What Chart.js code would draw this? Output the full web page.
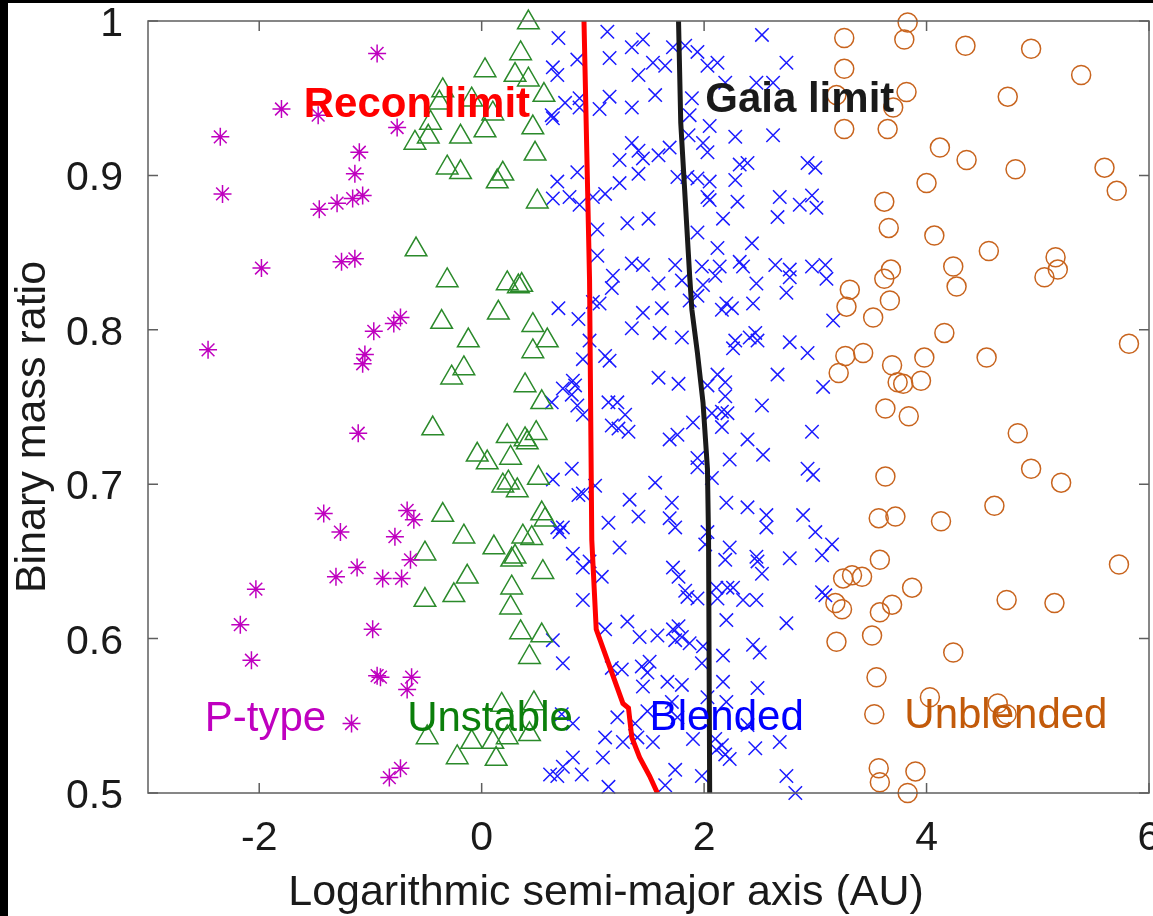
<!DOCTYPE html>
<html lang="en">
<head>
  <meta charset="UTF-8">
  <title>Binary mass ratio vs semi-major axis</title>
  <script src="https://cdn.jsdelivr.net/npm/chart.js"></script>
  <style>
    html, body { margin: 0; padding: 0; background: #fff; }
    canvas { display: block; }
  </style>
</head>
<body>
  <canvas id="chart" width="1153" height="916"></canvas>

  <script>
    // axis ticks
    const xTicks = [-2, 0, 2, 4, 6];
    const yTicks = [0.5, 0.6, 0.7, 0.8, 0.9, 1];
    const yTickLabels = ['0.5', '0.6', '0.7', '0.8', '0.9', '1'];

    // [log10 a (AU), mass ratio]
    const pType = [
      [-0.94,0.979],[-1.80,0.943],[-1.47,0.939],[-0.76,0.931],[-2.35,0.925],[-1.10,0.915],[-1.14,0.901],
      [-2.33,0.888],[-1.46,0.878],[-1.30,0.882],[-1.16,0.885],[-1.07,0.887],[-1.98,0.840],[-1.26,0.844],
      [-1.14,0.846],[-2.46,0.787],[-0.97,0.799],[-0.79,0.804],[-0.73,0.808],[-1.05,0.784],[-1.07,0.778],
      [-1.11,0.733],[-1.42,0.681],[-1.27,0.669],[-0.67,0.683],[-0.61,0.677],[-0.78,0.666],[-1.31,0.640],
      [-1.12,0.646],[-0.89,0.639],[-0.72,0.639],[-2.03,0.632],[-2.17,0.609],[-2.07,0.586],[-0.98,0.606],
      [-0.91,0.575],[-0.94,0.576],[-0.63,0.575],[-0.67,0.567],[-1.17,0.545],[-0.83,0.510],[-0.73,0.516],
      [-0.64,0.651]
    ];

    const unstable = [
      [0.42,0.999],[0.35,0.979],[0.03,0.968],[0.30,0.965],[0.42,0.962],[-0.35,0.955],[-0.38,0.947],
      [-0.09,0.949],[0.10,0.940],[0.56,0.952],[-0.46,0.934],[0.03,0.929],[0.46,0.931],[-0.19,0.925],
      [-0.48,0.925],[-0.60,0.921],[0.48,0.914],[-0.31,0.905],[-0.19,0.902],[0.19,0.901],[0.14,0.896],
      [0.50,0.883],[-0.59,0.852],[-0.31,0.832],[0.23,0.830],[0.36,0.829],[0.33,0.828],[0.15,0.811],
      [-0.36,0.805],[0.46,0.803],[0.59,0.793],[-0.12,0.793],[0.46,0.786],[-0.16,0.775],[-0.27,0.769],
      [0.39,0.764],[0.54,0.753],[-0.44,0.736],[0.23,0.731],[0.39,0.729],[0.49,0.733],[0.41,0.727],
      [-0.04,0.719],[0.05,0.714],[0.26,0.717],[0.51,0.704],[0.19,0.699],[0.32,0.696],[0.24,0.701],
      [-0.35,0.680],[0.54,0.681],[0.57,0.677],[-0.16,0.666],[0.37,0.666],[0.45,0.665],[-0.51,0.655],
      [0.11,0.659],[0.30,0.653],[0.27,0.651],[-0.13,0.640],[0.55,0.643],[-0.51,0.625],[-0.25,0.628],
      [0.27,0.633],[0.26,0.620],[0.35,0.604],[0.54,0.602],[0.43,0.588],[0.18,0.557],[0.47,0.558],
      [-0.49,0.536],[-0.09,0.533],[0.10,0.533],[0.23,0.536],[0.43,0.538],[-0.22,0.523],[0.13,0.522]
    ];

    const blended = [
      [0.69,0.989],[1.13,0.993],[0.86,0.975],[1.15,0.976],[1.35,0.983],[1.45,0.988],[0.64,0.970],[0.68,0.965],
      [1.41,0.965],[0.75,0.947],[0.88,0.950],[0.88,0.944],[1.06,0.943],[1.15,0.951],[1.35,0.944],[0.63,0.939],
      [0.64,0.937],[1.35,0.921],[1.41,0.916],[1.45,0.911],[1.24,0.910],[0.86,0.902],[0.68,0.896],[1.41,0.901],
      [0.64,0.885],[0.79,0.886],[0.88,0.881],[1.00,0.886],[1.11,0.888],[1.24,0.895],[1.04,0.865],[1.31,0.869],
      [1.50,0.872],[1.04,0.848],[1.35,0.843],[1.45,0.842],[1.18,0.835],
      [1.72,0.983],[1.83,0.984],[1.94,0.980],[2.52,0.991],[1.54,0.973],[1.65,0.971],[2.03,0.971],[2.12,0.973],
      [2.74,0.973],[1.56,0.952],[1.89,0.950],[2.19,0.960],[2.47,0.960],[2.62,0.960],[1.87,0.939],[2.05,0.932],
      [1.86,0.926],[2.28,0.925],[2.62,0.926],[1.59,0.913],[1.69,0.918],[1.99,0.921],[2.03,0.915],[2.32,0.907],
      [2.39,0.908],[2.93,0.908],[3.00,0.905],[1.76,0.899],[1.85,0.899],[1.94,0.898],[2.05,0.896],[2.28,0.897],
      [2.03,0.886],[2.05,0.884],[2.30,0.883],[2.68,0.886],[2.86,0.881],[2.97,0.887],[3.01,0.879],[2.17,0.872],
      [2.66,0.873],[1.94,0.863],[2.43,0.856],[2.12,0.853],[1.74,0.842],[1.98,0.841],[2.14,0.841],[2.32,0.844],
      [2.35,0.841],[2.64,0.842],[2.77,0.839],[2.97,0.841],[3.09,0.842],
      [1.17,0.827],[1.06,0.817],[1.00,0.818],[0.69,0.814],[0.87,0.807],[1.45,0.811],[1.35,0.801],[0.97,0.793],
      [0.91,0.781],[1.11,0.783],[1.15,0.780],[0.82,0.767],[0.84,0.764],[0.73,0.762],[0.81,0.758],[0.63,0.753],
      [0.86,0.751],[0.91,0.745],[1.14,0.753],[1.22,0.753],[1.29,0.745],[1.17,0.738],[1.23,0.736],[1.32,0.734],
      [0.81,0.710],[0.64,0.703],[1.02,0.699],[0.87,0.693],[0.91,0.694],[1.33,0.690],[1.41,0.679],[1.14,0.675],
      [0.68,0.672],[0.73,0.672],
      [1.59,0.830],[1.80,0.832],[1.99,0.829],[2.10,0.835],[2.47,0.830],[2.77,0.834],[3.10,0.833],[2.74,0.824],
      [1.62,0.814],[1.87,0.819],[1.94,0.822],[2.16,0.813],[2.20,0.817],[2.25,0.814],[2.44,0.817],[3.16,0.806],
      [1.60,0.798],[1.80,0.795],[2.28,0.793],[2.26,0.788],[2.41,0.795],[2.46,0.798],[2.48,0.793],[2.77,0.792],
      [2.93,0.785],[1.59,0.769],[1.77,0.765],[2.03,0.764],[2.12,0.771],[2.19,0.766],[2.66,0.771],[3.07,0.763],
      [2.19,0.757],[2.52,0.751],[2.07,0.746],[2.16,0.747],[2.21,0.746],[1.90,0.740],[2.16,0.737],[1.69,0.729],
      [1.76,0.732],[2.39,0.729],[2.97,0.734],[1.94,0.717],[1.94,0.711],[2.23,0.716],[2.53,0.719],[2.93,0.710],
      [2.98,0.706],[1.56,0.701],[2.07,0.704],[1.71,0.688],[2.20,0.688],[2.39,0.685],[2.56,0.680],[2.89,0.680],
      [1.69,0.678],[1.74,0.672],[2.56,0.672],[3.00,0.669],[2.03,0.669],
      [2.01,0.661],[2.23,0.659],[2.19,0.651],[2.47,0.653],[2.48,0.650],[2.77,0.652],[3.06,0.654],[3.15,0.661],
      [1.72,0.646],[1.77,0.640],[2.52,0.642],[1.83,0.631],[1.85,0.627],[1.94,0.626],[2.11,0.633],[2.12,0.626],
      [2.21,0.633],[2.26,0.633],[2.35,0.625],[2.47,0.625],[3.06,0.630],[3.09,0.628],[2.20,0.612],[2.74,0.610],
      [1.58,0.602],[1.72,0.606],[1.77,0.608],[1.80,0.601],[1.74,0.599],[1.87,0.597],[1.99,0.595],[2.17,0.589],
      [2.44,0.596],[2.50,0.591],[1.51,0.585],[1.44,0.582],[1.49,0.578],[1.98,0.584],[1.67,0.572],[1.80,0.570],
      [2.17,0.572],[2.48,0.568],[1.45,0.569],[2.03,0.562],[2.20,0.559],[1.49,0.553],[1.71,0.559],[1.76,0.549],
      [2.39,0.544],[1.54,0.533],[1.90,0.535],[2.10,0.535],[2.16,0.531],[2.11,0.528],[2.19,0.525],[2.23,0.522],
      [2.46,0.529],[2.68,0.533],[1.74,0.515],[1.65,0.505],[1.98,0.511],[2.74,0.511],[2.82,0.500],
      [0.70,0.669],[1.24,0.659],[0.82,0.655],[0.91,0.646],[0.97,0.650],[1.08,0.640],[0.91,0.625],[1.11,0.606],
      [1.31,0.611],[1.42,0.601],[0.64,0.599],[0.73,0.584],[1.17,0.581],[1.26,0.580],[1.22,0.549],[1.38,0.545],
      [0.72,0.551],[0.82,0.545],[1.11,0.536],[1.27,0.533],[1.40,0.536],[1.09,0.523],[0.82,0.523],[0.73,0.517],
      [0.615,0.512],[0.68,0.511],[0.90,0.512],[1.14,0.504]
    ];

    const unblended = [
      [3.26,0.989],[3.26,0.969],[3.19,0.952],[3.26,0.930],[3.65,0.930],[3.83,0.999],[3.80,0.988],[4.35,0.984],
      [4.94,0.982],[5.39,0.965],[4.73,0.951],[3.82,0.954],[3.70,0.944],[4.12,0.918],[4.36,0.910],[4.80,0.904],
      [5.60,0.905],[5.71,0.890],[4.00,0.895],[3.62,0.883],[3.66,0.866],[4.07,0.861],[4.56,0.851],[4.24,0.841],
      [5.16,0.847],[5.18,0.839],[5.06,0.834],[3.68,0.839],[3.62,0.833],[4.27,0.828],[3.31,0.826],[3.28,0.815],
      [3.52,0.808],[3.67,0.819],[3.27,0.783],[3.43,0.785],[3.21,0.772],[3.69,0.777],[3.74,0.766],[3.63,0.749],
      [3.63,0.705],[3.57,0.678],[3.72,0.679],[4.16,0.798],[5.82,0.791],[3.98,0.782],[4.54,0.782],[3.79,0.765],
      [3.95,0.767],[3.84,0.744],[4.82,0.733],[4.94,0.710],[5.21,0.701],[4.61,0.686],[4.13,0.676],[3.58,0.651],
      [3.25,0.639],[3.33,0.641],[3.42,0.640],[3.18,0.623],[3.24,0.619],[3.58,0.617],[3.69,0.622],[3.19,0.598],
      [3.51,0.602],[3.55,0.575],[3.53,0.551],[3.57,0.516],[3.58,0.507],[3.87,0.633],[4.72,0.625],[5.15,0.623],
      [5.73,0.648],[4.24,0.591],[4.03,0.562],[4.64,0.558],[4.72,0.551],[3.90,0.514],[3.83,0.500]
    ];

    // detection limits
    const reconLimit = [
      [0.92,1.0],[0.97,0.832],[0.99,0.664],[1.03,0.606],[1.15,0.582],[1.27,0.558],[1.32,0.555],
      [1.35,0.536],[1.42,0.523],[1.51,0.511],[1.58,0.500]
    ];
    const gaiaLimit = [
      [1.77,1.0],[1.79,0.934],[1.87,0.835],[1.89,0.813],[1.94,0.785],[1.99,0.753],[2.03,0.710],
      [2.04,0.664],[2.05,0.500]
    ];

    // text labels placed in data coordinates (left edge, baseline)
    const labels = [
      { text: 'Recon limit', x: -1.60, y: 0.938, color: '#ff0000', bold: true },
      { text: 'Gaia limit', x: 2.01, y: 0.941, color: '#1a1a1a', bold: true },
      { text: 'P-type', x: -2.49, y: 0.540, color: '#bf00bf', bold: false },
      { text: 'Unstable', x: -0.67, y: 0.540, color: '#0b7f0b', bold: false },
      { text: 'Blended', x: 1.51, y: 0.541, color: '#0000ff', bold: false },
      { text: 'Unblended', x: 3.80, y: 0.542, color: '#c25a0a', bold: false }
    ];

    const FONT = "'Liberation Sans', Arial, Helvetica, sans-serif";
    const toXY = arr => arr.map(([x, y]) => ({ x, y }));

    const decorations = {
      id: 'decorations',
      beforeDraw(chart) {
        const ctx = chart.ctx;
        ctx.save();
        ctx.fillStyle = '#ffffff';
        ctx.fillRect(0, 0, chart.width, chart.height);
        ctx.restore();
      },
      afterDatasetsDraw(chart) {
        const { ctx, chartArea: a, scales: { x, y } } = chart;
        ctx.save();

        // axes box
        ctx.strokeStyle = '#5f5f5f';
        ctx.lineWidth = 1.5;
        ctx.strokeRect(a.left, a.top, a.right - a.left, a.bottom - a.top);

        // inward ticks on all four sides
        ctx.beginPath();
        xTicks.forEach(v => {
          const px = x.getPixelForValue(v);
          ctx.moveTo(px, a.bottom); ctx.lineTo(px, a.bottom - 10);
          ctx.moveTo(px, a.top); ctx.lineTo(px, a.top + 10);
        });
        yTicks.forEach(v => {
          const py = y.getPixelForValue(v);
          ctx.moveTo(a.left, py); ctx.lineTo(a.left + 10, py);
          ctx.moveTo(a.right, py); ctx.lineTo(a.right - 10, py);
        });
        ctx.stroke();

        // tick labels
        ctx.fillStyle = '#1a1a1a';
        ctx.font = '41px ' + FONT;
        ctx.textBaseline = 'alphabetic';
        ctx.textAlign = 'center';
        xTicks.forEach(v => ctx.fillText(String(v), x.getPixelForValue(v), 850));
        ctx.textAlign = 'right';
        yTicks.forEach((v, i) => ctx.fillText(yTickLabels[i], a.left - 25, y.getPixelForValue(v) + 15));

        // axis titles
        ctx.font = '43px ' + FONT;
        ctx.textAlign = 'center';
        ctx.fillText('Logarithmic semi-major axis (AU)', 606, 905);
        ctx.save();
        ctx.translate(45, 427);
        ctx.rotate(-Math.PI / 2);
        ctx.fillText('Binary mass ratio', 0, 0);
        ctx.restore();

        // region and limit labels
        ctx.textAlign = 'left';
        labels.forEach(l => {
          ctx.font = (l.bold ? 'bold ' : '') + '42px ' + FONT;
          ctx.fillStyle = l.color;
          ctx.fillText(l.text, x.getPixelForValue(l.x), y.getPixelForValue(l.y));
        });
        ctx.restore();
      },
      afterDraw(chart) {
        // dark edges of the original screenshot
        const ctx = chart.ctx;
        ctx.save();
        ctx.fillStyle = '#000000';
        ctx.fillRect(0, 0, chart.width, 3);
        ctx.fillRect(0, 0, 8, chart.height);
        ctx.restore();
      }
    };

    const pointSet = (label, data, style, radius, color) => ({
      label,
      data: toXY(data),
      pointStyle: style,
      pointRadius: radius,
      pointBorderColor: color,
      pointBackgroundColor: 'rgba(0,0,0,0)',
      pointBorderWidth: 1.5,
      showLine: false,
      clip: false,
      order: 1
    });

    const lineSet = (label, data, color) => ({
      label,
      data: toXY(data),
      showLine: true,
      borderColor: color,
      borderWidth: 5,
      pointRadius: 0,
      fill: false,
      tension: 0,
      order: 0
    });

    new Chart(document.getElementById('chart'), {
      type: 'scatter',
      data: {
        datasets: [
          lineSet('Recon limit', reconLimit, '#ff0000'),
          lineSet('Gaia limit', gaiaLimit, '#1a1a1a'),
          pointSet('P-type', pType, 'star', 9, '#bf00bf'),
          pointSet('Unstable', unstable, 'triangle', 12.5, '#2b8a2b'),
          pointSet('Blended', blended, 'crossRot', 9.5, '#1a1aff'),
          pointSet('Unblended', unblended, 'circle', 9.5, '#c8641e')
        ]
      },
      options: {
        responsive: false,
        animation: false,
        devicePixelRatio: 1,
        events: [],
        layout: { autoPadding: false, padding: { left: 0, top: 21, right: 4, bottom: 0 } },
        plugins: { legend: { display: false }, tooltip: { enabled: false } },
        scales: {
          x: {
            type: 'linear', min: -3, max: 6,
            grid: { display: false }, border: { display: false },
            ticks: { display: false },
            afterBuildTicks: s => { s.ticks = xTicks.map(v => ({ value: v })); },
            afterFit: s => { s.height = 123; }
          },
          y: {
            type: 'linear', min: 0.5, max: 1,
            grid: { display: false }, border: { display: false },
            ticks: { display: false },
            afterBuildTicks: s => { s.ticks = yTicks.map(v => ({ value: v })); },
            afterFit: s => { s.width = 148; }
          }
        }
      },
      plugins: [decorations]
    });
  </script>
</body>
</html>
